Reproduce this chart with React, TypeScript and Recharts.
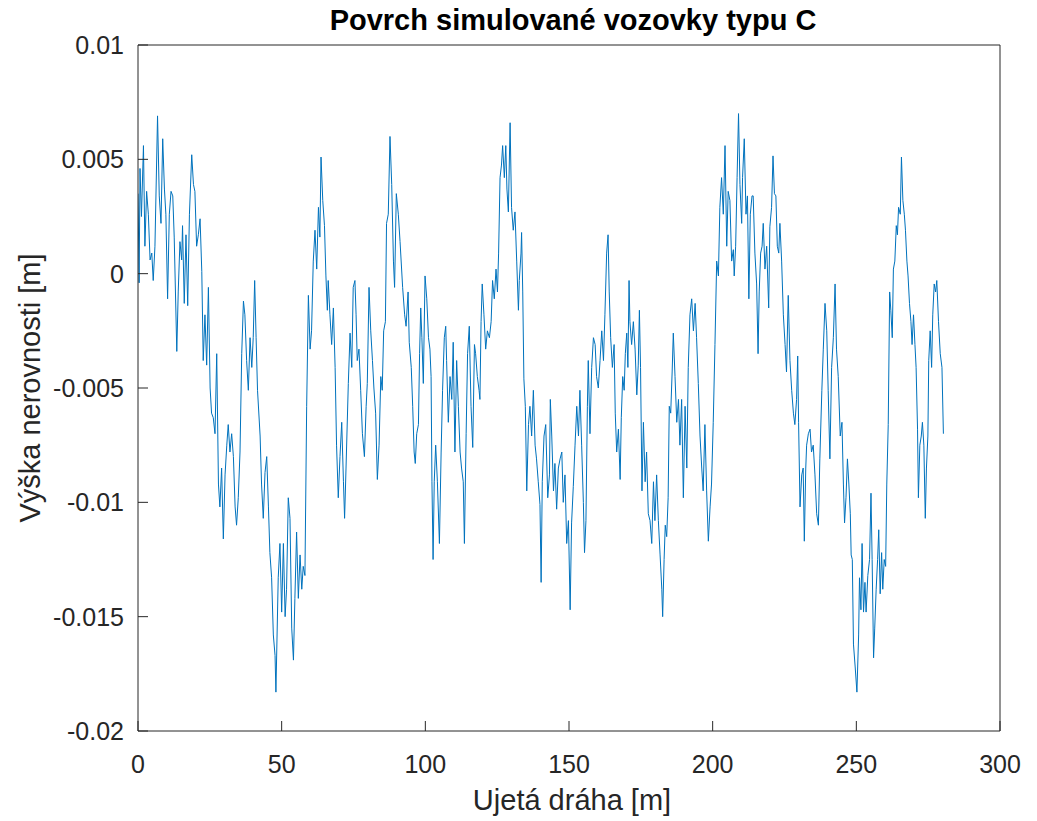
import { Line, LineChart, XAxis, YAxis } from "recharts";

// Profile, in segments of roughly 50 m.
// Each pair is [distance in m, height in mm].
const profile0to50: [number, number][] = [
  [0, 3.5], [0.4, -0.4], [0.7, 4.6], [1.2, 2.5], [1.9, 5.6], [2.4, 1.2], [3.0, 3.6], [3.6, 2.6],
  [4.2, 0.6], [4.8, 0.9], [5.3, -0.3], [5.9, 1.2], [6.8, 6.9], [7.4, 3.4], [8.0, 2.2], [8.6, 5.9],
  [9.2, 3.7], [9.7, 2.6], [10.3, -1.1], [10.9, 2.6], [11.5, 3.6], [12.1, 3.4], [12.6, 1.6],
  [13.5, -3.4], [14.0, -0.8], [14.6, 1.4], [15.2, 0.6], [15.5, 2.1], [16.1, -1.3], [16.7, 1.7],
  [17.3, -1.4], [17.9, 2.6], [18.7, 5.2], [19.3, 3.9], [19.8, 3.6], [20.4, 1.2], [21.0, 1.7],
  [21.6, 2.4], [22.2, 0.1], [22.7, -3.8], [23.3, -1.8], [23.9, -4.0], [24.5, -0.6], [25.1, -5.0],
  [25.6, -6.1], [26.2, -6.3], [26.8, -7.0], [27.4, -3.5], [28.0, -9.2], [28.5, -10.2], [29.1, -8.5],
  [29.7, -11.6], [30.3, -8.8], [30.9, -7.5], [31.4, -6.6], [32.0, -7.8], [32.6, -7.0], [33.2, -8.0],
  [33.8, -10.2], [34.3, -11.0], [34.9, -9.8], [35.5, -7.8], [36.1, -3.5], [36.7, -1.2], [37.2, -1.8],
  [37.8, -3.8], [38.4, -5.1], [39.0, -2.8], [39.6, -4.1], [40.1, -2.8], [40.6, -0.3], [41.1, -2.8],
  [41.6, -5.1], [42.5, -7.1], [43.0, -9.2], [43.6, -10.7], [44.2, -8.7], [44.8, -8.0], [45.4, -10.2],
  [45.9, -12.2], [46.5, -13.3], [47.1, -15.8], [47.7, -16.7], [48.0, -18.3], [48.8, -13.3], [49.4, -11.8],
];

const profile50to97: [number, number][] = [
  [50.0, -14.8], [50.6, -11.8], [51.2, -15.0], [51.7, -13.8], [52.3, -9.8], [52.9, -10.7],
  [53.5, -15.5], [54.1, -16.9], [54.6, -14.2], [55.2, -11.3], [55.8, -14.2], [56.4, -12.3],
  [57.0, -13.8], [57.5, -12.8], [58.1, -13.2], [58.7, -5.8], [59.3, -0.95], [59.9, -3.3],
  [60.4, -2.5], [61.0, 0.55], [61.6, 1.9], [62.2, 0.2], [62.8, 2.9], [63.3, 1.6], [63.7, 5.1],
  [64.3, 3.2], [64.9, 2.1], [65.4, -0.1], [65.9, -1.6], [66.2, -0.3], [66.8, -1.8], [67.4, -3.1],
  [68.0, -1.5], [68.6, -4.1], [69.1, -7.5], [69.7, -9.8], [70.3, -8.0], [70.9, -6.5], [71.5, -9.1],
  [71.9, -10.7], [72.4, -8.5], [73.2, -4.8], [73.8, -2.6], [74.4, -4.1], [74.9, -0.6], [75.5, -0.3],
  [75.9, -1.8], [76.3, -3.8], [76.9, -3.3], [77.5, -5.1], [78.1, -7.0], [78.8, -8.0], [79.4, -5.8],
  [79.8, -4.8], [80.4, -0.6], [81.0, -2.5], [81.6, -3.8], [82.1, -5.0], [82.7, -6.1], [83.3, -9.0],
  [83.9, -7.5], [84.5, -4.5], [85.0, -5.1], [85.5, -2.5], [86.1, -2.1], [86.5, 2.2], [87.1, 2.6],
  [87.7, 6.0], [88.3, 3.9], [88.9, 0.55], [89.3, -0.6], [89.9, 3.5], [90.6, 2.6], [91.2, 1.4],
  [92.1, -0.6], [92.8, -1.8], [93.3, -2.3], [94.0, -0.8], [94.4, -3.0], [95.1, -4.1], [95.6, -5.8],
  [96.1, -7.8], [96.5, -8.3], [97.0, -7.0],
];

const profile97to147: [number, number][] = [
  [97.6, -6.6], [98.0, -3.5], [98.4, -1.5], [98.8, -2.8], [99.3, -4.8], [99.9, -0.1], [100.5, -1.1],
  [101.1, -2.8], [101.6, -3.3], [102.0, -4.5], [102.3, -9.1], [102.7, -12.5], [103.1, -9.1],
  [103.6, -7.5], [104.2, -9.1], [104.9, -11.8], [105.5, -7.8], [106.0, -5.1], [106.6, -2.8],
  [107.1, -2.3], [107.4, -3.8], [108.0, -6.5], [108.6, -4.5], [109.2, -5.5], [109.7, -3.0],
  [110.3, -7.8], [110.9, -3.8], [111.5, -5.8], [112.1, -7.8], [112.6, -8.5], [113.2, -9.1],
  [113.6, -11.8], [114.2, -7.0], [114.7, -3.5], [115.3, -2.3], [115.9, -5.8], [116.5, -7.6],
  [117.1, -3.1], [117.5, -3.5], [118.1, -4.5], [118.7, -5.1], [119.0, -5.5], [119.4, -2.1],
  [119.8, -0.45], [120.4, -1.8], [121.0, -3.3], [121.6, -2.5], [122.3, -2.8], [122.9, -2.1],
  [123.4, -0.3], [124.0, -1.1], [124.6, 0.2], [125.1, -0.8], [125.5, 0.9], [126.0, 4.2],
  [126.5, 4.75], [126.9, 5.6], [127.5, 4.2], [128.0, 5.6], [128.4, 3.7], [128.9, 2.7], [129.5, 6.6],
  [130.0, 2.9], [130.6, 1.9], [131.2, 2.7], [131.8, 0.55], [132.4, -1.6], [132.7, -0.3], [133.3, 0.9],
  [133.5, 1.8], [133.9, -0.8], [134.3, -4.6], [134.8, -5.8], [135.3, -9.5], [135.9, -6.6],
  [136.4, -5.8], [137.0, -7.1], [137.6, -5.1], [138.2, -7.5], [138.7, -8.1], [139.3, -9.1],
  [139.9, -10.1], [140.3, -13.5], [140.7, -9.1], [141.3, -7.1], [141.9, -6.6], [142.6, -9.8],
  [143.2, -8.8], [143.5, -5.5], [144.0, -7.1], [144.6, -9.5], [145.1, -8.3], [145.7, -10.3],
  [146.3, -8.5], [146.9, -8.1],
];

const profile147to196: [number, number][] = [
  [147.5, -7.8], [148.0, -10.0], [148.6, -8.8], [149.2, -11.8], [149.8, -10.8], [150.4, -14.7],
  [150.9, -10.9], [151.5, -9.3], [152.1, -7.5], [152.7, -5.8], [153.3, -7.1], [153.8, -5.1],
  [154.4, -7.5], [155.0, -10.0], [155.4, -12.2], [155.9, -10.8], [156.4, -5.8], [156.7, -3.8],
  [157.3, -7.0], [157.9, -4.1], [158.5, -2.8], [159.1, -3.1], [159.6, -4.5], [160.2, -5.0],
  [160.8, -3.8], [161.4, -2.5], [162.0, -3.8], [162.5, -1.8], [163.1, 0.9], [163.6, 1.7],
  [164.0, -0.8], [164.5, -2.8], [165.1, -4.1], [165.7, -3.1], [166.1, -6.1], [166.6, -7.8],
  [167.2, -6.8], [167.8, -9.0], [168.2, -6.3], [168.7, -4.5], [169.2, -5.1], [169.6, -3.5],
  [170.1, -2.6], [170.5, -4.1], [170.9, -0.3], [171.2, -2.1], [171.8, -3.1], [172.4, -2.1],
  [173.0, -3.3], [173.6, -5.3], [174.1, -4.0], [174.5, -1.6], [174.9, -4.1], [175.4, -9.5],
  [175.9, -6.5], [176.5, -9.1], [177.0, -7.8], [177.6, -10.5], [178.2, -10.8], [178.8, -11.8],
  [179.4, -9.1], [179.9, -10.8], [180.5, -8.8], [181.1, -10.8], [181.7, -12.3], [182.3, -13.8],
  [182.6, -15.0], [183.1, -12.5], [183.5, -11.0], [184.0, -11.5], [184.5, -9.8], [184.9, -5.8],
  [185.4, -6.1], [185.9, -4.3], [186.3, -2.6], [186.9, -4.5], [187.5, -6.5], [188.1, -5.5],
  [188.6, -7.5], [189.2, -5.5], [189.8, -9.8], [190.4, -5.8], [191.0, -8.5], [191.5, -4.1],
  [192.1, -1.8], [192.7, -1.1], [193.3, -2.5], [193.9, -1.3], [194.4, -2.8], [195.0, -4.8],
  [195.6, -7.1],
];

const profile196to244: [number, number][] = [
  [196.2, -8.5], [196.7, -9.5], [197.3, -6.6], [197.9, -9.5], [198.5, -11.7], [199.1, -10.2],
  [199.6, -9.2], [200.2, -6.5], [200.8, -3.1], [201.4, 0.55], [202.0, -0.1], [202.5, 2.9],
  [203.1, 4.2], [203.7, 2.6], [204.3, 5.6], [204.9, 1.2], [205.4, 3.6], [206.0, 3.2], [206.6, 0.55],
  [207.2, 1.05], [207.5, -0.1], [208.0, 1.2], [208.5, 4.2], [209.0, 7.0], [209.5, 3.9], [210.1, 2.2],
  [210.4, 4.2], [211.0, 5.9], [211.6, 2.6], [212.1, 3.4], [212.6, -1.1], [213.1, 2.6], [213.7, 3.4],
  [214.1, 3.4], [214.7, 0.9], [215.3, -0.45], [215.8, -3.5], [216.2, -0.8], [216.7, 0.9],
  [217.2, 1.2], [217.6, 2.2], [218.2, 0.2], [218.8, 1.2], [219.5, -1.5], [219.9, 2.05], [220.5, 2.9],
  [221.0, 5.15], [221.5, 3.5], [222.0, 3.4], [222.5, 1.2], [223.0, 0.9], [223.4, 2.2], [224.0, 0.55],
  [224.6, -1.8], [225.2, -3.1], [225.7, -4.3], [226.3, -0.95], [226.9, -3.8], [227.5, -5.1],
  [228.1, -6.1], [228.6, -6.6], [229.2, -5.5], [229.6, -3.6], [229.9, -6.5], [230.4, -10.2],
  [231.0, -8.8], [231.5, -8.5], [231.9, -11.7], [232.4, -8.5], [232.7, -7.5], [233.3, -7.0],
  [233.9, -6.8], [234.4, -7.8], [235.0, -7.5], [235.6, -8.8], [236.2, -10.5], [236.8, -11.0],
  [237.3, -8.1], [238.0, -5.1], [238.5, -3.3], [239.1, -1.3], [239.7, -2.5], [240.2, -5.1],
  [240.8, -8.1], [241.4, -4.1], [242.0, -2.8], [242.6, -0.45], [243.1, -3.3], [243.7, -4.5],
];

const profile244to280: [number, number][] = [
  [244.4, -7.1], [245.0, -6.5], [245.5, -9.2], [245.9, -10.9], [246.4, -9.8], [246.9, -8.1],
  [247.4, -9.2], [247.9, -10.5], [248.2, -12.3], [248.6, -12.5], [249.0, -16.2], [249.6, -17.2],
  [250.2, -18.3], [250.8, -15.8], [251.1, -13.3], [251.6, -14.7], [252.0, -11.8], [252.5, -14.8],
  [253.0, -13.5], [253.4, -14.8], [254.0, -13.2], [254.6, -12.5], [255.1, -9.6], [255.5, -12.5],
  [256.0, -16.8], [256.4, -15.5], [256.9, -13.8], [257.4, -12.5], [257.8, -11.2], [258.3, -14.0],
  [258.8, -12.2], [259.2, -13.8], [259.7, -12.5], [260.2, -12.8], [260.6, -9.2], [261.1, -6.6],
  [261.6, -0.8], [262.0, -1.6], [262.5, -2.8], [262.9, 0.2], [263.4, 0.55], [263.9, 2.1],
  [264.3, 1.7], [264.7, 2.9], [265.3, 2.6], [265.7, 5.1], [266.2, 3.2], [266.7, 2.6], [267.1, 1.9],
  [267.6, 0.55], [268.0, -0.1], [268.5, -1.3], [269.0, -2.1], [269.4, -3.1], [269.9, -1.8],
  [270.4, -3.1], [270.8, -4.1], [271.3, -6.8], [271.6, -9.8], [272.1, -7.5], [272.6, -7.1],
  [273.0, -6.5], [273.5, -7.5], [274.0, -10.7], [274.4, -8.5], [274.9, -7.1], [275.2, -3.8],
  [275.7, -2.5], [276.2, -4.1], [276.6, -1.8], [277.1, -0.45], [277.6, -0.8], [278.0, -0.3],
  [278.6, -2.1], [279.2, -3.5], [279.8, -4.1], [280.3, -7.0],
];

const xTicks = [0, 50, 100, 150, 200, 250, 300];
const yTicks = [-0.02, -0.015, -0.01, -0.005, 0, 0.005, 0.01];

const TITLE = "Povrch simulované vozovky typu C";
const X_LABEL = "Ujetá dráha [m]";
const Y_LABEL = "Výška nerovnosti [m]";

const data = [
  ...profile0to50,
  ...profile50to97,
  ...profile97to147,
  ...profile147to196,
  ...profile196to244,
  ...profile244to280,
].map(([x, mm]) => ({ x, h: mm / 1000 }));

const FONT = '"Liberation Sans", Arial, Helvetica, sans-serif';
const INK = "#262626";
const tickStyle = { fontSize: 25, fill: INK, fontFamily: FONT };

// Plot box (page px): left 138, right 1000, top 45, bottom 731.
// The top and right axes only draw the box edge and inward ticks, MATLAB style;
// an axis needs a non-zero size to render, hence the 1px.
export default function App() {
  return (
    <div
      style={{
        position: "absolute",
        left: 0,
        top: 0,
        width: 1037,
        height: 821,
        background: "#fff",
        fontFamily: FONT,
      }}
    >
      <LineChart
        width={1037}
        height={821}
        data={data}
        margin={{ top: 44, right: 36, bottom: 0, left: 0 }}
      >
        <XAxis
          xAxisId="bottom"
          dataKey="x"
          type="number"
          domain={[0, 300]}
          ticks={xTicks}
          height={90}
          stroke={INK}
          tickSize={-10}
          tickMargin={34}
          tick={tickStyle}
          allowDataOverflow
        />
        <XAxis
          xAxisId="top"
          orientation="top"
          dataKey="x"
          type="number"
          domain={[0, 300]}
          ticks={xTicks}
          height={1}
          stroke={INK}
          tickSize={-10}
          tick={false}
        />
        <YAxis
          yAxisId="left"
          type="number"
          domain={[-0.02, 0.01]}
          ticks={yTicks}
          width={138}
          stroke={INK}
          tickSize={-10}
          tickMargin={24}
          tick={tickStyle}
          tickFormatter={(v: number) => String(v)}
          allowDataOverflow
        />
        <YAxis
          yAxisId="right"
          orientation="right"
          type="number"
          domain={[-0.02, 0.01]}
          ticks={yTicks}
          width={1}
          stroke={INK}
          tickSize={-10}
          tick={false}
        />
        <Line
          xAxisId="bottom"
          yAxisId="left"
          type="linear"
          dataKey="h"
          stroke="#0072BD"
          strokeWidth={1}
          dot={false}
          isAnimationActive={false}
        />
      </LineChart>

      <div
        style={{
          position: "absolute",
          left: 573,
          top: 20,
          transform: "translate(-50%, -50%)",
          fontSize: 29,
          fontWeight: "bold",
          color: "#000",
          whiteSpace: "nowrap",
          lineHeight: 1,
        }}
      >
        {TITLE}
      </div>
      <div
        style={{
          position: "absolute",
          left: 572,
          top: 800,
          transform: "translate(-50%, -50%)",
          fontSize: 29,
          color: INK,
          whiteSpace: "nowrap",
          lineHeight: 1,
        }}
      >
        {X_LABEL}
      </div>
      <div
        style={{
          position: "absolute",
          left: 30,
          top: 388,
          transform: "translate(-50%, -50%) rotate(-90deg)",
          fontSize: 29,
          color: INK,
          whiteSpace: "nowrap",
          lineHeight: 1,
        }}
      >
        {Y_LABEL}
      </div>
    </div>
  );
}
